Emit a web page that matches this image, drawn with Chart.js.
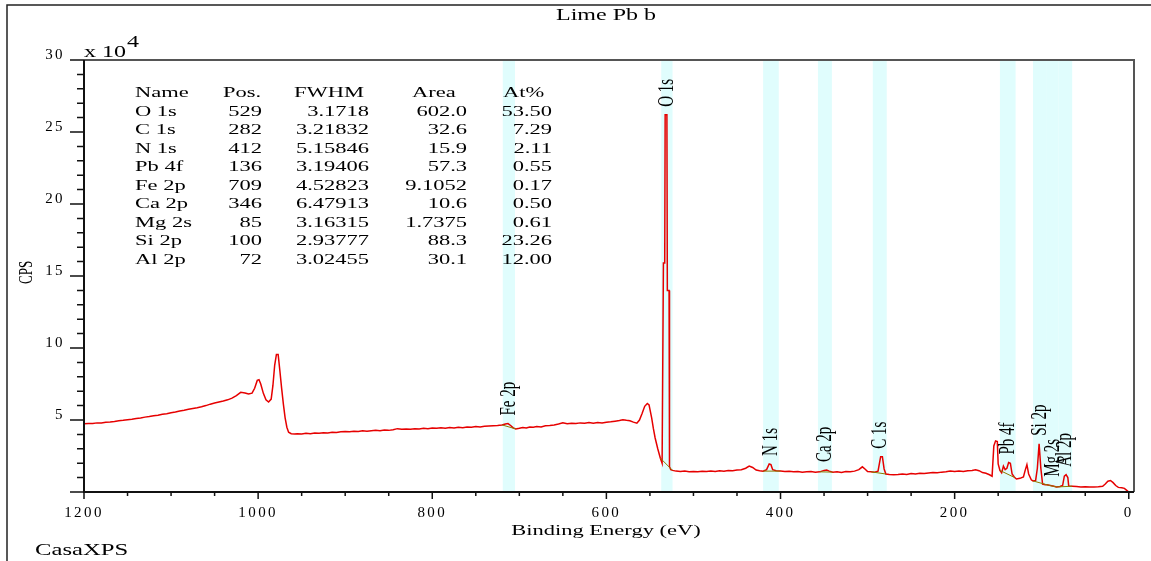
<!DOCTYPE html>
<html>
<head>
<meta charset="utf-8">
<title>Lime Pb b</title>
<script src="https://cdn.jsdelivr.net/npm/chart.js@4.4.1/dist/chart.umd.min.js"></script>
<style>
  html, body { margin: 0; padding: 0; background: #fff; }
  #wrap { position: relative; width: 1151px; height: 561px; }
</style>
</head>
<body>
<div id="wrap"><canvas id="xps"></canvas></div>
<script>
// Survey spectrum: binding energy (eV) and counts (x 10^4 CPS)
const energy = [
  1200, 1195, 1190, 1185, 1180, 1175, 1170, 1165, 1160, 1155, 1150, 1145, 1140, 1135, 1130,
  1125, 1120, 1115, 1110, 1105, 1100, 1095, 1090, 1085, 1080, 1075, 1070, 1065, 1060, 1055,
  1050, 1045, 1040, 1035, 1030, 1025, 1020, 1015, 1011, 1007, 1004, 1001, 999, 997, 994,
  991, 988, 985, 983, 981, 979, 977, 975, 973, 971, 969, 967, 965, 962, 958,
  955, 950, 945, 940, 935, 930, 925, 920, 915, 910, 905, 900, 895, 890, 885,
  880, 875, 870, 865, 860, 855, 850, 845, 840, 835, 830, 825, 820, 815, 810,
  805, 800, 795, 790, 785, 780, 775, 770, 765, 760, 755, 750, 745, 740, 735,
  730, 725, 720, 716, 713, 710, 707, 704, 700, 696, 692, 688, 684, 680, 675,
  670, 665, 660, 655, 650, 645, 640, 635, 630, 625, 620, 615, 610, 605, 600,
  595, 590, 585, 581, 577, 573, 569, 565, 562, 559, 556, 553, 551, 548, 546,
  544, 541, 538, 536, 535.5, 534.5, 533, 532.5, 530.5, 530, 528, 527.5, 526, 524, 520,
  515, 510, 505, 500, 495, 490, 485, 480, 475, 470, 465, 460, 455, 450, 445,
  440, 436, 432, 428, 424, 420, 416, 413, 411, 409, 405, 400, 395, 390, 385,
  380, 375, 370, 365, 360, 355, 350, 347, 344, 340, 335, 330, 325, 320, 315,
  310, 306, 303, 300, 296, 292, 288, 285, 283, 281, 279, 275, 270, 265, 260,
  255, 250, 245, 240, 235, 230, 225, 220, 215, 210, 205, 200, 195, 190, 185,
  180, 176, 172, 168, 164, 160, 157, 155, 153, 151, 150, 148, 146, 144, 142,
  140, 138, 136, 134, 131, 129, 125, 121, 119, 117, 115, 112, 110, 107, 105,
  103, 101, 99, 96, 94, 90, 86, 83, 79, 76, 74, 72, 70, 69, 65,
  60, 55, 50, 45, 40, 35, 30, 27, 24, 21, 18, 15, 12, 8, 5,
  2, 0
];
const counts = [
  4.74, 4.76, 4.75, 4.80, 4.79, 4.84, 4.86, 4.90, 4.95, 4.98, 5.02, 5.05, 5.10, 5.14, 5.20,
  5.24, 5.30, 5.33, 5.40, 5.44, 5.50, 5.55, 5.63, 5.68, 5.74, 5.80, 5.85, 5.92, 6.00, 6.10,
  6.18, 6.25, 6.32, 6.40, 6.52, 6.70, 6.92, 6.88, 6.80, 6.86, 7.20, 7.75, 7.80, 7.50, 6.85,
  6.40, 6.25, 6.45, 7.40, 8.80, 9.55, 9.55, 8.40, 7.20, 6.10, 5.15, 4.50, 4.15, 4.05, 4.02,
  4.05, 4.03, 4.08, 4.05, 4.10, 4.08, 4.12, 4.10, 4.15, 4.13, 4.18, 4.20, 4.18, 4.22, 4.20,
  4.25, 4.22, 4.26, 4.28, 4.25, 4.30, 4.28, 4.33, 4.40, 4.35, 4.38, 4.36, 4.40, 4.38, 4.42,
  4.40, 4.44, 4.42, 4.46, 4.43, 4.48, 4.45, 4.50, 4.47, 4.52, 4.50, 4.55, 4.52, 4.56, 4.58,
  4.60, 4.62, 4.66, 4.72, 4.75, 4.62, 4.45, 4.38, 4.42, 4.48, 4.45, 4.52, 4.50, 4.55, 4.52,
  4.60, 4.62, 4.66, 4.72, 4.80, 4.74, 4.78, 4.75, 4.80, 4.78, 4.82, 4.78, 4.82, 4.80, 4.85,
  4.88, 4.92, 4.96, 5.02, 4.98, 4.95, 4.85, 4.78, 5.00, 5.45, 5.95, 6.15, 6.05, 5.15, 4.40,
  3.75, 3.00, 2.35, 2.00, 2.00, 15.9, 15.9, 26.2, 26.2, 14.0, 14.0, 1.75, 1.55, 1.50, 1.45,
  1.42, 1.45, 1.40, 1.43, 1.41, 1.44, 1.42, 1.45, 1.43, 1.47, 1.44, 1.50, 1.48, 1.52, 1.55,
  1.65, 1.80, 1.70, 1.52, 1.48, 1.45, 1.55, 1.95, 1.90, 1.55, 1.48, 1.45, 1.42, 1.44, 1.40,
  1.42, 1.38, 1.40, 1.42, 1.38, 1.40, 1.50, 1.52, 1.45, 1.38, 1.40, 1.36, 1.42, 1.40, 1.45,
  1.55, 1.75, 1.60, 1.42, 1.40, 1.38, 1.45, 2.45, 2.45, 1.60, 1.25, 1.22, 1.20, 1.22, 1.25,
  1.22, 1.28, 1.25, 1.30, 1.28, 1.32, 1.35, 1.33, 1.38, 1.40, 1.45, 1.42, 1.45, 1.42, 1.48,
  1.50, 1.55, 1.48, 1.35, 1.30, 1.20, 1.10, 3.20, 3.55, 3.50, 1.95, 1.50, 1.33, 1.80, 1.55,
  1.65, 2.05, 2.00, 1.25, 1.00, 0.90, 0.95, 1.05, 1.50, 1.90, 1.25, 0.85, 0.77, 0.80, 1.65,
  3.35, 1.65, 0.55, 0.50, 0.50, 0.45, 0.40, 0.35, 0.38, 0.45, 1.10, 1.20, 1.00, 0.42, 0.40,
  0.38, 0.35, 0.36, 0.34, 0.35, 0.36, 0.40, 0.55, 0.75, 0.80, 0.65, 0.45, 0.32, 0.30, 0.25,
  0.10, 0.00
];

// Axis ticks
const xTickLabels = [1200, 1000, 800, 600, 400, 200, 0];
const yTickLabels = [5, 10, 15, 20, 25, 30];

// Peak regions (eV)
const regionNames = ['Fe 2p', 'O 1s', 'N 1s', 'Ca 2p', 'C 1s', 'Pb 4f', 'Si 2p', 'Mg 2s', 'Al 2p'];
const regionStart = [719, 537, 420, 357, 294, 148, 110, 94, 81];
const regionEnd = [705, 524, 402, 341, 278, 130, 94, 81, 65];

// Quantification table
const tableNames = ['O 1s', 'C 1s', 'N 1s', 'Pb 4f', 'Fe 2p', 'Ca 2p', 'Mg 2s', 'Si 2p', 'Al 2p'];
const tablePos = ['529', '282', '412', '136', '709', '346', '85', '100', '72'];
const tableFwhm = ['3.1718', '3.21832', '5.15846', '3.19406', '4.52823', '6.47913', '3.16315', '2.93777', '3.02455'];
const tableArea = ['602.0', '32.6', '15.9', '57.3', '9.1052', '10.6', '1.7375', '88.3', '30.1'];
const tableAt = ['53.50', '7.29', '2.11', '0.55', '0.17', '0.50', '0.61', '23.26', '12.00'];

const SERIF = '"Liberation Serif", "Times New Roman", serif';
const STRETCH = 1.5;

// texto ensanchado horizontalmente (la figura original esta estirada)
function wideText(ctx, text, x, y, size, align, sx) {
    ctx.save();
    ctx.letterSpacing = '0px';
    ctx.font = size + 'px ' + SERIF;
    ctx.fillStyle = '#000';
    ctx.textAlign = align;
    ctx.textBaseline = 'alphabetic';
    ctx.translate(x, y);
    ctx.scale(sx || STRETCH, 1);
    ctx.fillText(text, 0, 0);
    ctx.restore();
}

// texto vertical, empieza abajo y sube
function upText(ctx, text, x, y, size, sx) {
    ctx.save();
    ctx.letterSpacing = '0px';
    ctx.font = size + 'px ' + SERIF;
    ctx.fillStyle = '#000';
    ctx.textAlign = 'left';
    ctx.textBaseline = 'middle';
    ctx.translate(x, y);
    ctx.rotate(-Math.PI / 2);
    ctx.scale(1, sx || STRETCH);
    ctx.fillText(text, 0, 0);
    ctx.restore();
}

function nearestIndex(e) {
    let best = 0;
    energy.forEach((v, i) => {
        if (Math.abs(v - e) < Math.abs(energy[best] - e)) best = i;
    });
    return best;
}

function regionMax(a, b) {
    let m = 0;
    energy.forEach((v, i) => {
        if (v <= a && v >= b && counts[i] > m) m = counts[i];
    });
    return m;
}

const xpsPlugin = {
    id: 'xpsDecor',
    beforeDraw(chart) {
        chart.ctx.letterSpacing = '2.4px';
    },
    beforeDatasetsDraw(chart) {
        const { ctx, chartArea, scales } = chart;
        ctx.save();
        ctx.fillStyle = '#e0fdfd';
        regionNames.forEach((name, i) => {
            const x1 = scales.x.getPixelForValue(regionStart[i]);
            const x2 = scales.x.getPixelForValue(regionEnd[i]);
            ctx.fillRect(x1, chartArea.top, x2 - x1, chartArea.bottom - chartArea.top);
        });
        ctx.restore();
    },
    afterDatasetsDraw(chart) {
        const { ctx, scales } = chart;
        // fondo (linea base) de cada region
        ctx.save();
        ctx.strokeStyle = '#8b7a00';
        ctx.lineWidth = 1;
        regionNames.forEach((name, i) => {
            const a = nearestIndex(regionStart[i]);
            const b = nearestIndex(regionEnd[i]);
            ctx.beginPath();
            ctx.moveTo(scales.x.getPixelForValue(energy[a]), scales.y.getPixelForValue(counts[a]));
            ctx.lineTo(scales.x.getPixelForValue(energy[b]), scales.y.getPixelForValue(counts[b]));
            ctx.stroke();
        });
        ctx.restore();

        // etiquetas de picos
        regionNames.forEach((name, i) => {
            const xc = scales.x.getPixelForValue((regionStart[i] + regionEnd[i]) / 2);
            const yTop = scales.y.getPixelForValue(regionMax(regionStart[i], regionEnd[i]));
            upText(ctx, name, xc, yTop - 8, 15);
        });
    },
    afterDraw(chart) {
        const { ctx, chartArea, scales } = chart;
        const { left, right, top, bottom } = chartArea;
        ctx.save();
        ctx.letterSpacing = '0px';

        // borde exterior
        ctx.strokeStyle = '#222';
        ctx.lineWidth = 1.5;
        ctx.beginPath();
        ctx.moveTo(7, 561);
        ctx.lineTo(7, 5);
        ctx.lineTo(1151, 5);
        ctx.stroke();

        // marco del grafico
        ctx.strokeStyle = '#555';
        ctx.lineWidth = 2;
        ctx.beginPath();
        ctx.moveTo(left, top);
        ctx.lineTo(right, top);
        ctx.lineTo(right, bottom);
        ctx.stroke();
        ctx.strokeStyle = '#111';
        ctx.beginPath();
        ctx.moveTo(left, top);
        ctx.lineTo(left, bottom);
        ctx.lineTo(right, bottom);
        ctx.stroke();

        // marcas de los ejes
        ctx.lineWidth = 1.5;
        ctx.strokeStyle = '#111';
        ctx.beginPath();
        for (let e = 0; e <= 1200; e += 50) {
            const x = scales.x.getPixelForValue(e);
            const len = e % 200 === 0 ? 7 : 4;
            ctx.moveTo(x, bottom);
            ctx.lineTo(x, bottom + len);
        }
        for (let v = 0; v <= 30; v += 1) {
            const y = scales.y.getPixelForValue(v);
            const len = v % 5 === 0 ? 14 : 7;
            ctx.moveTo(left, y);
            ctx.lineTo(left - len, y);
        }
        ctx.stroke();
        ctx.restore();

        // textos
        wideText(ctx, 'Lime Pb b', 606, 20, 16, 'center');
        wideText(ctx, 'Binding Energy (eV)', 606, 535, 15, 'center');
        wideText(ctx, 'CasaXPS', 35, 555, 17, 'left', 1.45);
        wideText(ctx, 'x 10', 84, 57, 16, 'left');
        wideText(ctx, '4', 127, 47, 16, 'left');
        upText(ctx, 'CPS', 27, 284, 13);

        // tabla de cuantificacion
        const y0 = 97, dy = 18.5;
        wideText(ctx, 'Name', 135, y0, 15, 'left');
        wideText(ctx, 'Pos.', 223, y0, 15, 'left');
        wideText(ctx, 'FWHM', 294, y0, 15, 'left');
        wideText(ctx, 'Area', 412, y0, 15, 'left');
        wideText(ctx, 'At%', 503, y0, 15, 'left');
        tableNames.forEach((name, i) => {
            const y = y0 + (i + 1) * dy;
            wideText(ctx, name, 135, y, 15, 'left');
            wideText(ctx, tablePos[i], 262, y, 15, 'right');
            wideText(ctx, tableFwhm[i], 369, y, 15, 'right');
            wideText(ctx, tableArea[i], 467, y, 15, 'right');
            wideText(ctx, tableAt[i], 552, y, 15, 'right');
        });
    }
};

const spectrum = energy.map((e, i) => ({ x: e, y: counts[i] }));

new Chart(document.getElementById('xps'), {
    type: 'line',
    data: {
        datasets: [{
            label: 'Lime Pb b',
            data: spectrum,
            borderColor: '#e60000',
            borderWidth: 1.5,
            pointRadius: 0,
            tension: 0,
            fill: false
        }]
    },
    options: {
        responsive: true,
        maintainAspectRatio: false,
        animation: false,
        layout: { padding: { top: 60, right: 17, left: 0, bottom: 0 } },
        plugins: {
            legend: { display: false },
            tooltip: { enabled: false }
        },
        scales: {
            x: {
                type: 'linear',
                reverse: true,
                min: -6,
                max: 1200,
                afterBuildTicks: scale => {
                    scale.ticks = xTickLabels.map(v => ({ value: v }));
                },
                afterFit: scale => { scale.height = 69; },
                grid: { display: false, drawTicks: false },
                border: { display: false },
                ticks: {
                    autoSkip: false,
                    maxRotation: 0,
                    padding: 12,
                    color: '#000',
                    font: { family: SERIF, size: 15 },
                    callback: v => String(v)
                }
            },
            y: {
                type: 'linear',
                min: 0,
                max: 30,
                afterBuildTicks: scale => {
                    scale.ticks = yTickLabels.map(v => ({ value: v }));
                },
                afterFit: scale => { scale.width = 84; },
                grid: { display: false, drawTicks: false },
                border: { display: false },
                ticks: {
                    autoSkip: false,
                    padding: 19,
                    labelOffset: -5,
                    color: '#000',
                    font: { family: SERIF, size: 15 },
                    callback: v => String(v)
                }
            }
        }
    },
    plugins: [xpsPlugin]
});
</script>
</body>
</html>
